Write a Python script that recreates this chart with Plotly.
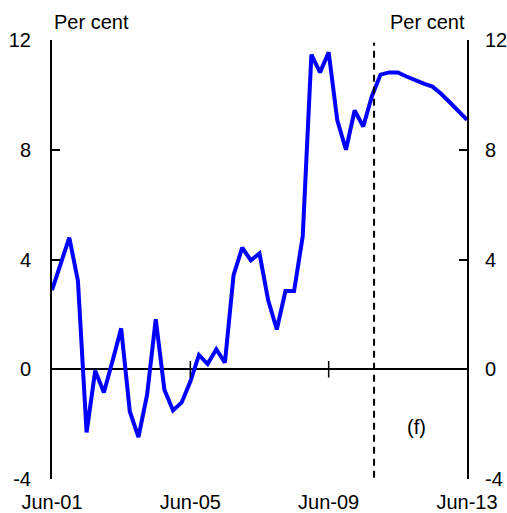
import plotly.graph_objects as go

# Quarterly categories Jun-01 .. Jun-13
months = ["Jun", "Sep", "Dec", "Mar"]
quarters = []
for k in range(49):
    m = months[k % 4]
    yr = 1 + (k + 2) // 4 if m == "Mar" else 1 + k // 4
    quarters.append(f"{m}-{yr:02d}")

values = [2.88, 3.85, 4.8, 3.22, -2.3, -0.05, -0.85, 0.3, 1.49, -1.54,
          -2.47, -0.93, 1.82, -0.75, -1.5, -1.21, -0.45, 0.52, 0.19, 0.73,
          0.24, 3.43, 4.43, 3.97, 4.22, 2.52, 1.45, 2.85, 2.85, 4.85,
          11.47, 10.82, 11.55, 9.07, 8.0, 9.43, 8.85, 9.95, 10.74, 10.82,
          10.82, 10.67, 10.52, 10.41, 10.3, 10.04, 9.73, 9.43, 9.09]

x_ticks = ["Jun-01", "Jun-05", "Jun-09", "Jun-13"]
y_ticks = [-4, 0, 4, 8, 12]
y_tick_text = ["-4", "0", "4", "8", "12"]
forecast_start = 37.25  # position of the forecast divider (category units)
inner_ticks = ["Jun-05", "Jun-09"]

FONT = "Liberation Sans, Arial, sans-serif"
FS = 20

fig = go.Figure()
fig.add_trace(go.Scatter(x=quarters, y=values, mode="lines",
                         line=dict(color="#0000FF", width=4),
                         showlegend=False, cliponaxis=False))
fig.add_trace(go.Scatter(x=[quarters[0]], y=[None], yaxis="y2",
                         showlegend=False, hoverinfo="skip"))

fig.update_layout(
    width=507, height=513,
    margin=dict(l=52, r=40, t=40, b=34, autoexpand=False),
    paper_bgcolor="white", plot_bgcolor="white",
    font=dict(family=FONT, size=FS, color="black"),
    xaxis=dict(type="category", categoryorder="array", categoryarray=quarters,
               range=[0, 48], tickvals=x_ticks, ticktext=x_ticks,
               ticks="", showline=False, showgrid=False, zeroline=False,
               ticklabelstandoff=9, automargin=False,
               tickfont=dict(family=FONT, size=FS)),
    yaxis=dict(range=[-4, 12], tickvals=y_ticks, ticktext=y_tick_text,
               ticks="inside", ticklen=8,
               tickwidth=2, tickcolor="black", showline=True, linecolor="black",
               linewidth=2, showgrid=False, zeroline=True, zerolinecolor="black",
               zerolinewidth=1.5, ticklabelstandoff=15, automargin=False,
               tickfont=dict(family=FONT, size=FS)),
    yaxis2=dict(range=[-4, 12], tickvals=y_ticks, ticktext=y_tick_text,
                ticks="inside", ticklen=8,
                tickwidth=2, tickcolor="black", showline=True, linecolor="black",
                linewidth=2, showgrid=False, zeroline=False, overlaying="y",
                side="right", ticklabelstandoff=12, automargin=False,
                tickfont=dict(family=FONT, size=FS)),
)

shapes = [dict(type="line", xref="x", yref="y", x0=forecast_start, x1=forecast_start,
               y0=-3.95, y1=11.9, line=dict(color="black", width=2, dash="7px,5px"))]
for t in inner_ticks:
    idx = quarters.index(t)
    shapes.append(dict(type="line", xref="x", yref="y", x0=idx, x1=idx,
                       y0=-0.3, y1=0.3, line=dict(color="black", width=1.5)))
fig.update_layout(shapes=shapes)

fig.add_annotation(text="Per cent", xref="paper", yref="paper", x=0, y=1,
                   xanchor="left", yanchor="bottom", yshift=5, showarrow=False,
                   font=dict(family=FONT, size=FS))
fig.add_annotation(text="Per cent", xref="paper", yref="paper", x=1, y=1,
                   xanchor="right", yanchor="bottom", yshift=5, showarrow=False,
                   font=dict(family=FONT, size=FS))
fig.add_annotation(text="(f)", xref="x", yref="y", x=42.2, y=-2.1,
                   showarrow=False, font=dict(family=FONT, size=FS))

fig.write_html(
    "out.html",
    config={"displayModeBar": False},
    post_script="document.body.style.margin='0';document.body.style.overflow='hidden';",
)
